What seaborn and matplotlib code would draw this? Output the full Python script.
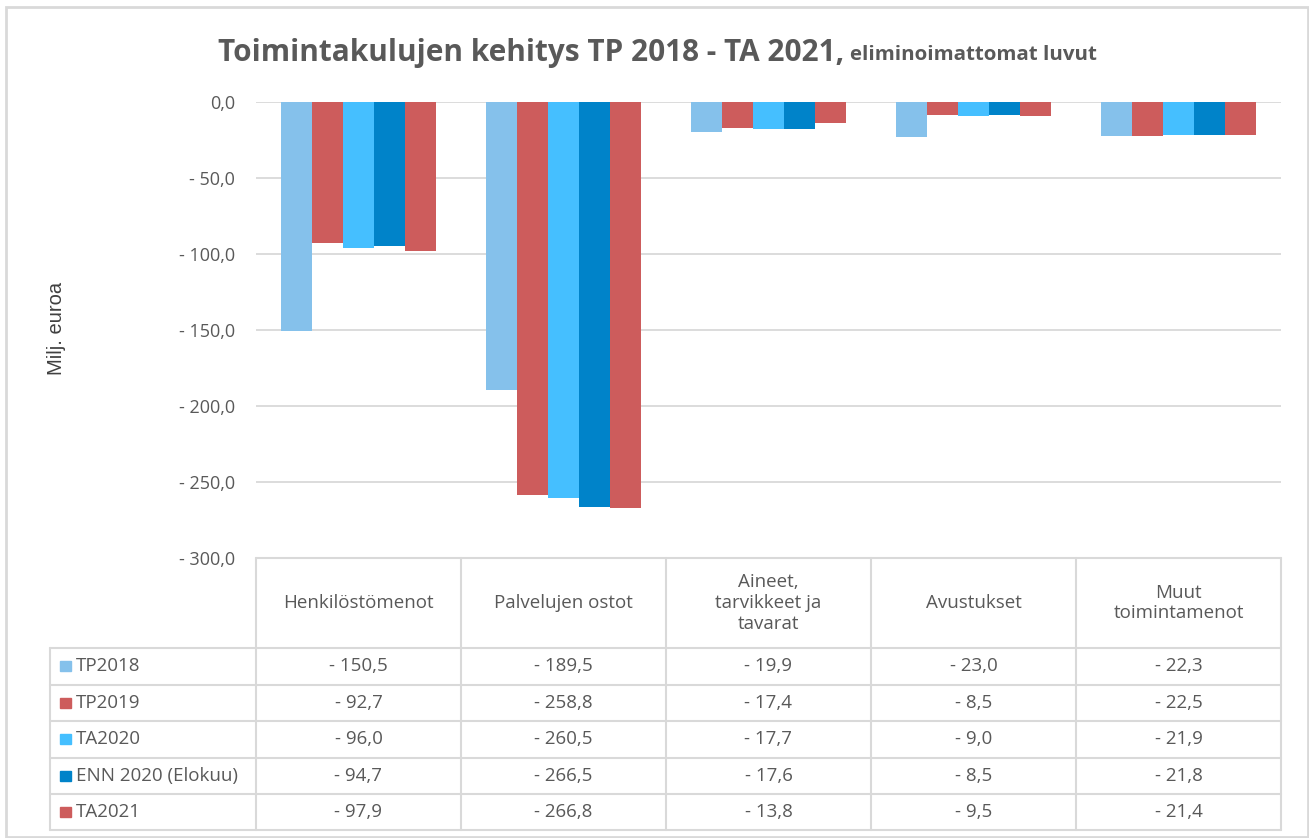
import pandas as pd
import matplotlib.pyplot as plt
import seaborn as sns
from matplotlib.lines import Line2D
from matplotlib.patches import Rectangle

# Data
categories = ['Henkilöstömenot', 'Palvelujen ostot', 'Aineet,\ntarvikkeet ja\ntavarat',
              'Avustukset', 'Muut\ntoimintamenot']
series = ['TP2018', 'TP2019', 'TA2020', 'ENN 2020 (Elokuu)', 'TA2021']
tp2018 = [-150.5, -189.5, -19.9, -23.0, -22.3]
tp2019 = [-92.7, -258.8, -17.4, -8.5, -22.5]
ta2020 = [-96.0, -260.5, -17.7, -9.0, -21.9]
enn2020 = [-94.7, -266.5, -17.6, -8.5, -21.8]
ta2021 = [-97.9, -266.8, -13.8, -9.5, -21.4]
colors = ['#85C1EB', '#CD5C5C', '#45BFFF', '#0083C9', '#CD5C5C']
yticks = [0, -50, -100, -150, -200, -250, -300]

values = [tp2018, tp2019, ta2020, enn2020, ta2021]
rows = []
for s, vals in zip(series, values):
    for c, v in zip(categories, vals):
        rows.append({'Kategoria': c, 'Sarja': s, 'Arvo': v})
data = pd.DataFrame(rows)


def fmt(v):
    if v == 0:
        return '0,0'
    return '- ' + f'{abs(v):.1f}'.replace('.', ',')


W, H = 1309, 838
sns.set_style('white')
plt.rcParams['font.family'] = ['Open Sans', 'DejaVu Sans']
fig = plt.figure(figsize=(W / 100, H / 100), dpi=100)

# pixel helpers (figure fraction)
def fx(px):
    return px / W

def fy(py):
    return 1 - py / H

left, right, top, bottom = 256, 1281, 102, 558
ax = fig.add_axes([fx(left), fy(bottom), fx(right) - fx(left), fy(top) - fy(bottom)])

sns.barplot(data=data, x='Kategoria', y='Arvo', hue='Sarja', order=categories,
            hue_order=series, palette=colors, width=0.76, saturation=1,
            edgecolor='none', ax=ax, legend=False)

ax.set_ylim(-300, 0)
ax.set_xlim(-0.5, 4.5)
ax.set_yticks(yticks)
ax.set_yticklabels([fmt(v) for v in yticks], color='#595959', fontsize=13)
ax.tick_params(axis='y', length=0, pad=15)
ax.set_xticks([])
ax.set_xlabel('')
ax.set_ylabel('')
ax.grid(axis='y', color='#D9D9D9', linewidth=1.3)
ax.set_axisbelow(True)
for sp in ax.spines.values():
    sp.set_visible(False)

fig.text(fx(57), fy(328), 'Milj. euroa', rotation=90, ha='center', va='center',
         color='#404040', fontsize=14.5, family=['Liberation Sans', 'DejaVu Sans'])

# Title: main part and smaller trailing part, sized to the reference width
renderer = fig.canvas.get_renderer()
t1 = fig.text(fx(218), fy(61), 'Toimintakulujen kehitys TP 2018 - TA 2021,',
              ha='left', va='baseline', fontsize=20, fontweight='bold', color='#595959')
w1 = t1.get_window_extent(renderer).width
t1.set_fontsize(20 * (842 - 218) / w1)
t2 = fig.text(fx(850), fy(60), 'eliminoimattomat luvut', ha='left', va='baseline',
              fontsize=14, fontweight='bold', color='#595959')
w2 = t2.get_window_extent(renderer).width
t2.set_fontsize(14 * (1098 - 850) / w2)

# Data table
grid_c = '#D9D9D9'
col_edges = [256, 461, 666, 871, 1076, 1281]
row_edges = [648, 684.5, 721, 757.5, 794, 830]
legend_left = 50
tsize = 13.5

def hline(y, x0, x1):
    fig.add_artist(Line2D([fx(x0), fx(x1)], [fy(y), fy(y)], color=grid_c, lw=1.5))

def vline(x, y0, y1):
    fig.add_artist(Line2D([fx(x), fx(x)], [fy(y0), fy(y1)], color=grid_c, lw=1.5))

hline(558, 256, 1281)
for y in row_edges:
    hline(y, legend_left, 1281)
for x in col_edges:
    vline(x, 558, row_edges[-1])
vline(legend_left, row_edges[0], row_edges[-1])

for i, c in enumerate(categories):
    cx = (col_edges[i] + col_edges[i + 1]) / 2
    fig.text(fx(cx), fy(603), c, ha='center', va='center', fontsize=tsize,
             color='#595959', linespacing=1.2)

for r, (s, vals, col) in enumerate(zip(series, values, colors)):
    cy = (row_edges[r] + row_edges[r + 1]) / 2
    fig.add_artist(Rectangle((fx(60), fy(cy + 5)), fx(11), fy(cy - 5) - fy(cy + 5),
                             color=col, transform=fig.transFigure))
    fig.text(fx(76), fy(cy), s, ha='left', va='center', fontsize=tsize, color='#595959')
    for i, v in enumerate(vals):
        cx = (col_edges[i] + col_edges[i + 1]) / 2
        fig.text(fx(cx), fy(cy), fmt(v), ha='center', va='center', fontsize=tsize,
                 color='#595959')

# Outer chart border
fig.add_artist(Rectangle((fx(6), fy(837)), fx(1308) - fx(6), fy(7) - fy(837),
                         fill=False, edgecolor='#D9D9D9', lw=2, transform=fig.transFigure))

plt.savefig('out.png', dpi=100)
